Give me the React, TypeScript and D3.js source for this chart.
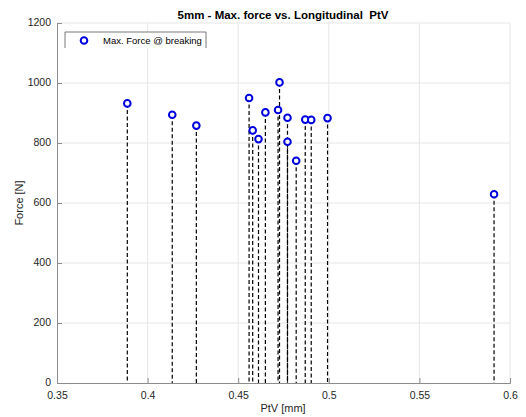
import { useEffect, useRef } from "react";
import * as d3 from "d3";

// PtV [mm] and max force [N] for each specimen
const ptv = [0.3888, 0.4136, 0.4269, 0.456, 0.458, 0.4612, 0.465, 0.472, 0.4728, 0.4772, 0.4772, 0.482, 0.487, 0.4903, 0.4993, 0.5912];
const force = [932, 894, 858, 950, 842, 813, 902, 910, 1002, 884, 804, 741, 878, 877, 883, 629];
const xTicks = [0.35, 0.4, 0.45, 0.5, 0.55, 0.6];
const yTicks = [0, 200, 400, 600, 800, 1000, 1200];
const title = "5mm - Max. force vs. Longitudinal  PtV";
const legendLabel = "Max. Force @ breaking";

export default function App() {
  const width = 526;
  const height = 417;
  const marginTop = 23;
  const marginRight = 16;
  const marginBottom = 34;
  const marginLeft = 57;
  const font = "'Liberation Sans', Arial, sans-serif";

  const chart = useRef(null);

  useEffect(() => {
    const svg = d3.select(chart.current);
    svg.selectAll("*").remove();

    const x = d3.scaleLinear().domain([0.35, 0.6]).range([marginLeft, width - marginRight]);
    const y = d3.scaleLinear().domain([0, 1200]).range([height - marginBottom, marginTop]);

    // grid
    const grid = svg.append("g").attr("stroke", "#e6e6e6").attr("stroke-width", 1);
    grid.selectAll(".gx").data(xTicks.slice(1)).join("line")
      .attr("x1", d => x(d)).attr("x2", d => x(d))
      .attr("y1", y(0)).attr("y2", y(1200));
    grid.selectAll(".gy").data(yTicks.slice(1)).join("line")
      .attr("x1", x(0.35)).attr("x2", x(0.6))
      .attr("y1", d => y(d)).attr("y2", d => y(d));

    // axes
    const gx = svg.append("g").attr("transform", `translate(0,${y(0)})`)
      .call(d3.axisBottom(x).tickValues(xTicks).tickSize(-5).tickPadding(9).tickFormat(d => String(d)));
    const gy = svg.append("g").attr("transform", `translate(${x(0.35)},0)`)
      .call(d3.axisLeft(y).tickValues(yTicks).tickSize(-5).tickPadding(6).tickFormat(d => String(d)));
    [gx, gy].forEach(g => {
      g.select(".domain").attr("stroke", "#8c8c8c");
      g.selectAll(".tick line").attr("stroke", "#8c8c8c");
      g.selectAll(".tick text").attr("fill", "#262626").style("font", `10.5px ${font}`);
    });
    gy.selectAll(".tick text").attr("dy", "0.2em");

    const pts = ptv.map((p, i) => ({ p, f: force[i] }));

    // stems
    svg.append("g").selectAll("line").data(pts).join("line")
      .attr("x1", d => x(d.p)).attr("x2", d => x(d.p))
      .attr("y1", d => y(d.f)).attr("y2", y(0))
      .attr("stroke", "#000").attr("stroke-width", 1.2)
      .attr("stroke-dasharray", "4,2.5");

    // markers
    svg.append("g").selectAll("circle").data(pts).join("circle")
      .attr("cx", d => x(d.p)).attr("cy", d => y(d.f)).attr("r", 3.3)
      .attr("fill", "#fff").attr("stroke", "#0000dd").attr("stroke-width", 2);

    // title and labels
    svg.append("text").attr("x", 283).attr("y", 19).attr("text-anchor", "middle")
      .style("font", `bold 11.5px ${font}`).style("white-space", "pre").attr("fill", "#000").text(title);
    svg.append("text").attr("x", 283).attr("y", 412).attr("text-anchor", "middle")
      .style("font", `11px ${font}`).attr("fill", "#262626").text("PtV [mm]");
    svg.append("text").attr("transform", `translate(23,${(y(0) + y(1200)) / 2}) rotate(-90)`)
      .attr("text-anchor", "middle")
      .style("font", `11px ${font}`).attr("fill", "#262626").text("Force [N]");

    // legend
    const lg = svg.append("g");
    lg.append("rect").attr("x", 65).attr("y", 32).attr("width", 141).attr("height", 16).attr("fill", "#fff");
    lg.append("path").attr("d", "M65,48V32H206V48").attr("fill", "none").attr("stroke", "#555").attr("stroke-width", 0.8);
    lg.append("circle").attr("cx", 84).attr("cy", 40.5).attr("r", 3.3)
      .attr("fill", "#fff").attr("stroke", "#0000dd").attr("stroke-width", 2);
    lg.append("text").attr("x", 103).attr("y", 44).style("font", `9.5px ${font}`).attr("fill", "#000").text(legendLabel);
  }, []);

  return (
    <svg ref={chart} width={width} height={height} style={{ position: "absolute", left: 0, top: 0, background: "#fff" }} />
  );
}
